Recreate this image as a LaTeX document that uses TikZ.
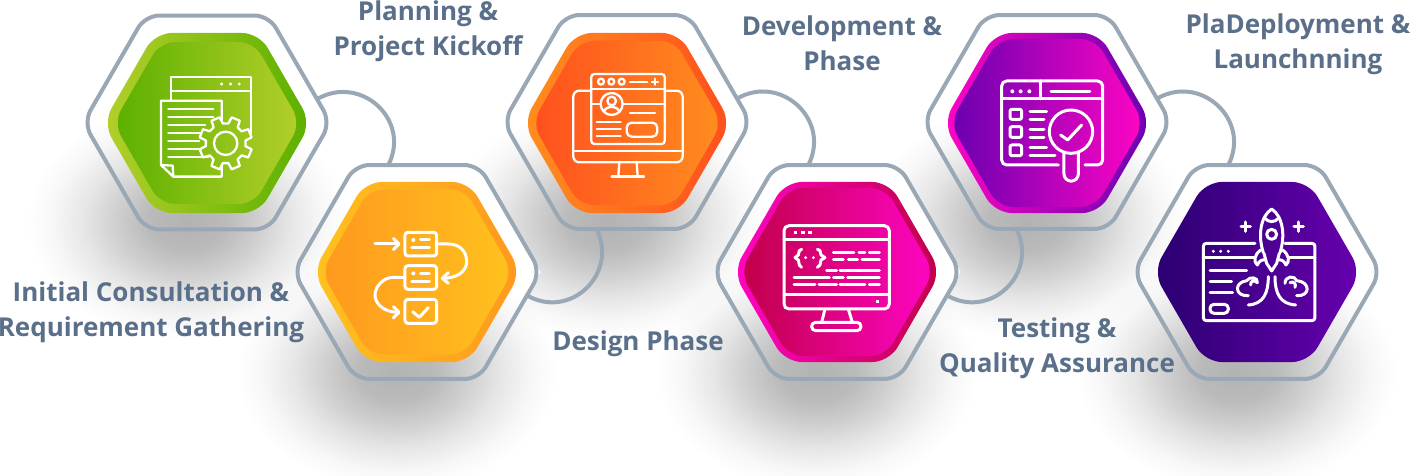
\documentclass[tikz,border=0pt]{standalone}
\usepackage{fontspec}
\setmainfont{Open Sans}
\usetikzlibrary{shapes.geometric,fadings}
\definecolor{ringgray}{HTML}{9AA8B6}
\definecolor{labelblue}{HTML}{5A6F8A}
\definecolor{limelight}{HTML}{B4CF2A}
\definecolor{limedark}{HTML}{5BB000}
\definecolor{ambyellow}{HTML}{FFC21E}
\definecolor{ambdark}{HTML}{FF981E}
\definecolor{flameorange}{HTML}{FF8E1E}
\definecolor{flamered}{HTML}{FF4F1E}
\definecolor{pinkbright}{HTML}{FF05C4}
\definecolor{pinkdark}{HTML}{C00048}
\definecolor{violetdark}{HTML}{6800B0}
\definecolor{navydark}{HTML}{2A0070}
\pgfdeclareradialshading{softshade}{\pgfpointorigin}{color(0bp)=(white!30!black); color(6bp)=(white!27!black); color(11bp)=(white!19!black); color(16bp)=(white!10!black); color(21bp)=(white!3!black); color(25bp)=(black); color(50bp)=(black)}
\pgfdeclarefading{softfade}{\pgfuseshading{softshade}}
\tikzset{
  hexshape/.style={regular polygon,regular polygon sides=6,inner sep=0pt,outer sep=0pt},
  hexbase/.style={hexshape,minimum size=247pt,fill=white},
  hexring/.style={hexshape,minimum size=247pt,draw=ringgray,line width=4pt,rounded corners=14pt},
  hexouter/.style={hexshape,minimum size=208pt,rounded corners=17pt},
  hexinner/.style={hexshape,minimum size=#1,rounded corners=15pt},
  softshadow/.style={fill=black,path fading=softfade},
  link/.style={draw=ringgray,line width=4pt},
  steplabel/.style={text=labelblue,font=\fontsize{26}{35}\selectfont\bfseries,align=center,inner sep=0pt},
  icon/.style={draw=white,line width=2.3pt,line cap=round,line join=round},
  iconheavy/.style={draw=white,line width=3pt,line cap=round,line join=round}
}
\begin{document}
\begin{tikzpicture}[x=1pt,y=-1pt]
\useasboundingbox (0,0) rectangle (1413,476);
\fill[white] (0,0) rectangle (1413,476);
% white bases and big shadows, right to left
\node[hexbase] (baseF) at (1257,272) {};
\fill[softshadow] (1237,372) ellipse (160 and 118);
\node[hexbase] (baseE) at (1047,122) {};
\fill[softshadow] (1027,222) ellipse (160 and 118);
\node[hexbase] (baseD) at (837,272) {};
\fill[softshadow] (817,372) ellipse (160 and 118);
\node[hexbase] (baseC) at (627,122) {};
\fill[softshadow] (607,222) ellipse (160 and 118);
\node[hexbase] (baseB) at (417,272) {};
\fill[softshadow] (397,372) ellipse (160 and 118);
\node[hexbase] (baseA) at (207,122) {};
\fill[softshadow] (187,222) ellipse (160 and 118);
% rings
\node[hexring] (ringA) at (207,122.5) {};
\node[hexring] (ringB) at (417,272) {};
\node[hexring] (ringC) at (627,122) {};
\node[hexring] (ringD) at (837,272) {};
\node[hexring] (ringE) at (1047,122) {};
\node[hexring] (ringF) at (1257,272) {};
% links
\draw[link] (ringA.12) to[out=30,in=63,looseness=1.33] (ringB.105);
\draw[link] (ringC.254) to[out=-63,in=-30,looseness=1.33] (ringB.-12);
\draw[link] (ringC.12) to[out=30,in=63,looseness=1.33] (ringD.105);
\draw[link] (ringE.254) to[out=-63,in=-30,looseness=1.33] (ringD.-12);
\draw[link] (ringE.12) to[out=30,in=63,looseness=1.33] (ringF.105);
% coloured hexagons
\node[hexouter,left color=limelight,right color=limedark] (outerA) at (207,123) {};
\node[hexinner=187pt,left color=limedark,right color=limelight] (innerA) at (207,123) {};
\node[hexouter,left color=ambyellow,right color=ambdark] (outerB) at (417,272) {};
\node[hexinner=191pt,left color=ambdark,right color=ambyellow] (innerB) at (417,272) {};
\node[hexouter,left color=flameorange,right color=flamered] (outerC) at (627,123) {};
\node[hexinner=190pt,left color=flamered,right color=flameorange] (innerC) at (627,123) {};
\node[hexouter,left color=pinkbright,right color=pinkdark] (outerD) at (837,272) {};
\node[hexinner=194pt,left color=pinkdark,right color=pinkbright] (innerD) at (837,272) {};
\node[hexouter,left color=pinkbright,right color=violetdark] (outerE) at (1047,123) {};
\node[hexinner=194pt,left color=violetdark,right color=pinkbright] (innerE) at (1047,123) {};
\node[hexouter,left color=navydark,right color=violetdark] (outerF) at (1257,272) {};
% icon one, in crop coordinates
\begin{scope}[shift={(80,0)},x=0.3333pt,y=-0.3333pt,icon]
\draw (272,300)--(272,230)--(512,230)--(512,400);
\draw (272,272)--(512,272);
\fill[white] (425,252) circle (5);
\fill[white] (452,252) circle (5);
\fill[white] (478,252) circle (5);
\draw (425,360)--(425,302)--(243,302)--(243,495)--(280,530)--(425,530)--(425,498);
\draw (243,495)--(278,497)--(280,530);
\draw (265,326)--(400,326);
\draw (265,350)--(400,350);
\draw (265,374)--(375,374);
\draw (265,398)--(360,398);
\draw (265,422)--(358,422);
\draw (265,446)--(362,446);
\draw (265,470)--(385,470);
\draw (437,430) circle (35);
\begin{scope}[shift={(437,430)}]
\draw (8:60) \foreach \a in {45,90,...,360} {-- ({\a-45+13}:80) -- ({\a-13}:80) -- ({\a-8}:60) -- ({\a+8}:60)} -- cycle;
\end{scope}
\end{scope}
% icon two
\begin{scope}[shift={(290,160)},x=0.3333pt,y=-0.3333pt,iconheavy]
\draw (255,252)--(325,252);
\draw (310,235)--(327,252)--(310,269);
\draw[rounded corners=3pt] (345,217) rectangle (440,288);
\fill[white] (370,240) circle (6);
\draw (392,240)--(418,240);
\draw (365,264)--(418,264);
\draw (440,252)--(475,252) .. controls (510,252) and (530,275) .. (530,305) .. controls (530,335) and (500,355) .. (458,355);
\draw (475,338)--(457,355)--(475,370);
\draw[rounded corners=3pt] (345,317) rectangle (440,388);
\fill[white] (370,340) circle (6);
\draw (392,340)--(418,340);
\draw (365,364)--(418,364);
\draw (345,352)--(310,352) .. controls (280,352) and (255,380) .. (255,405) .. controls (255,430) and (280,457) .. (325,457);
\draw (310,440)--(327,457)--(310,474);
\draw[rounded corners=3pt] (345,418) rectangle (440,490);
\draw (368,455)--(388,472)--(415,443);
\end{scope}
% icon three
\begin{scope}[shift={(500,10)},x=0.3333pt,y=-0.3333pt,icon]
\draw[rounded corners=6pt] (274,242)--(220,242)--(220,457)--(548,457)--(548,242)--(494,242);
\draw (220,422)--(548,422);
\draw (358,457)--(355,498);
\draw (410,457)--(413,498);
\draw (335,500)--(432,500);
\draw[rounded corners=3pt] (274,192) rectangle (494,402);
\draw (274,238)--(494,238);
\draw (303,215) circle (9);
\draw (334,215) circle (9);
\draw (365,215) circle (9);
\draw (390,215)--(442,215);
\draw (456,215)--(474,215);
\draw (465,206)--(465,224);
\draw (335,282) circle (33);
\draw (335,273) circle (13);
\draw (312,306) .. controls (315,286) and (355,286) .. (358,306);
\draw (274,282)--(302,282);
\draw (368,282)--(494,282);
\draw (390,310)--(465,310);
\draw (290,337)--(362,337);
\draw (290,358)--(362,358);
\draw (290,379)--(362,379);
\draw[rounded corners=5pt] (380,338) rectangle (472,380);
\end{scope}
% icon four
\begin{scope}[shift={(710,160)},x=0.3333pt,y=-0.3333pt,iconheavy]
\draw[rounded corners=5pt] (222,197) rectangle (538,447);
\draw (222,238)--(538,238);
\draw (222,405)--(538,405);
\fill[white] (252,213) rectangle (262,223);
\fill[white] (274,213) rectangle (284,223);
\fill[white] (295,213) rectangle (305,223);
\fill[white] (498,419) rectangle (508,429);
\draw (345,447)--(335,487);
\draw (415,447)--(427,487);
\draw[rounded corners=4pt] (305,487) rectangle (453,512);
\draw (275,268)--(268,272)--(265,285)--(255,293)--(265,300)--(268,315)--(275,322);
\draw (322,268)--(330,272)--(333,285)--(345,293)--(333,300)--(330,315)--(322,322);
\fill[white] (287,293) circle (5);
\fill[white] (310,293) circle (5);
\draw (370,278)--(432,278);
\draw (447,278)--(465,278);
\draw (478,278)--(508,278);
\draw (370,299)--(400,299);
\draw (415,299)--(443,299);
\draw (456,299)--(508,299);
\draw (350,331)--(380,331);
\draw (390,331)--(508,331);
\draw (252,353)--(358,353);
\draw (370,353)--(400,353);
\draw (413,353)--(508,353);
\draw (252,375)--(315,375);
\draw (327,375)--(380,375);
\draw (390,375)--(465,375);
\draw (478,375)--(508,375);
\end{scope}
% icon five
\begin{scope}[shift={(920,10)},x=0.3333pt,y=-0.3333pt,iconheavy]
\draw[rounded corners=5pt] (415,465)--(245,465)--(245,213)--(548,213)--(548,465)--(495,465);
\draw (245,267)--(548,267);
\draw (360,213)--(360,267);
\fill[white] (277,244) circle (6);
\fill[white] (302,244) circle (6);
\fill[white] (328,244) circle (6);
\draw (393,244)--(510,244);
\draw[rounded corners=2pt] (270,298) rectangle (305,328);
\draw[rounded corners=2pt] (270,350) rectangle (305,382);
\draw[rounded corners=2pt] (270,405) rectangle (305,437);
\draw (330,304)--(380,304);
\draw (330,328)--(372,328);
\draw (330,360)--(372,360);
\draw (330,384)--(372,384);
\draw (330,413)--(380,413);
\draw (330,438)--(405,438);
\draw (453,365) circle (65);
\draw (432,430)--(432,492) arc[start angle=180,end angle=0,radius=21.5]--(475,430);
\draw (422,375)--(443,390)--(485,345);
\end{scope}
% icon six
\begin{scope}[shift={(1100,160)},x=0.3333pt,y=-0.3333pt,iconheavy]
\draw[rounded corners=3pt] (465,250)--(310,250)--(310,482)--(645,482)--(645,250)--(555,250);
\draw (310,292)--(465,292);
\draw (565,292)--(645,292);
\fill[white] (340,274) circle (5);
\fill[white] (362,274) circle (5);
\fill[white] (385,274) circle (5);
\draw (490,278) .. controls (474,230) and (480,170) .. (515,147) .. controls (550,170) and (556,230) .. (540,278);
\draw (495,175) .. controls (505,188) and (525,188) .. (535,175);
\draw (515,223) circle (15);
\draw (492,280)--(500,310)--(515,333)--(530,310)--(538,280);
\draw (482,270) .. controls (462,285) and (460,305) .. (472,315) .. controls (478,300) and (490,298) .. (497,300);
\draw (548,270) .. controls (568,285) and (570,305) .. (558,315) .. controls (552,300) and (540,298) .. (533,300);
\draw (330,331)--(440,331);
\draw (330,365)--(395,365);
\draw (330,399)--(398,399);
\draw[rounded corners=4pt] (330,433) rectangle (385,460);
\draw (445,407) .. controls (405,410) and (400,368) .. (440,362) .. controls (450,348) and (475,352) .. (472,368) .. controls (462,358) and (450,365) .. (452,375);
\draw (505,350) .. controls (505,400) and (490,432) .. (445,435);
\draw (525,350) .. controls (525,400) and (540,432) .. (587,435);
\draw (555,370) .. controls (555,348) and (585,345) .. (590,362) .. controls (632,365) and (632,410) .. (590,407);
\draw (570,368) .. controls (580,362) and (590,372) .. (585,382);
\draw (423,200)--(451,200);
\draw (437,186)--(437,214);
\draw (582,200)--(610,200);
\draw (596,186)--(596,214);
\end{scope}
% labels
\node[steplabel] (labelA) at (151,312.5) {Initial Consultation \&\\Requirement Gathering};
\node[steplabel] (labelB) at (428,31) {Planning \&\\Project Kickoff};
\node[steplabel] (labelC) at (638,344) {Design Phase};
\node[steplabel] (labelD) at (842,43) {Development \&\\Phase};
\node[steplabel] (labelE) at (1057,348.5) {Testing \&\\Quality Assurance};
\node[steplabel] (labelF) at (1298,44) {PlaDeployment \&\\Launchnning};
\end{tikzpicture}
\end{document}
